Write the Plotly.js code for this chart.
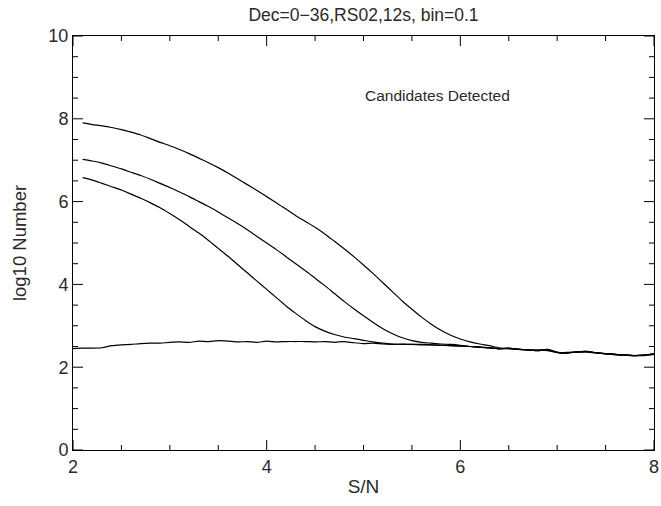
<!DOCTYPE html>
<html>
<head>
<meta charset="utf-8">
<script src="https://cdn.plot.ly/plotly-3.0.1.min.js"></script>
<style>html,body{margin:0;padding:0;background:#fff;}#chart{width:661px;height:506px;}</style>
</head>
<body>
<div id="chart"></div>
<script>
// S/N bins (bin = 0.1)
const snr = [2.0,2.1,2.2,2.3,2.4,2.5,2.6,2.7,2.8,2.9,3.0,3.1,3.2,3.3,3.4,3.5,3.6,3.7,3.8,3.9,
  4.0,4.1,4.2,4.3,4.4,4.5,4.6,4.7,4.8,4.9,5.0,5.1,5.2,5.3,5.4,5.5,5.6,5.7,5.8,5.9,
  6.0,6.1,6.2,6.3,6.4,6.5,6.6,6.7,6.8,6.9,7.0,7.1,7.2,7.3,7.4,7.5,7.6,7.7,7.8,7.9,8.0];

// log10 Number of candidates detected
const curveTop = [null,7.90,7.86,7.83,7.79,7.74,7.68,7.61,7.52,7.43,7.35,7.26,7.16,7.05,6.94,6.82,6.69,6.55,6.41,6.27,
  6.12,5.97,5.82,5.66,5.52,5.38,5.22,5.04,4.86,4.67,4.47,4.26,4.04,3.82,3.60,3.40,3.21,3.04,2.89,2.77,
  2.68,2.61,2.56,2.52,2.47,2.45,2.44,2.41,2.42,2.40,2.35,2.36,2.36,2.37,2.34,2.33,2.30,2.30,2.28,2.28,2.31];

const curveMid = [null,7.02,6.98,6.93,6.86,6.79,6.71,6.63,6.54,6.44,6.34,6.23,6.12,6.00,5.88,5.75,5.61,5.47,5.32,5.16,
  5.00,4.84,4.67,4.50,4.33,4.15,3.97,3.78,3.59,3.41,3.24,3.08,2.93,2.81,2.71,2.64,2.60,2.58,2.56,2.55,
  2.53,2.50,2.49,2.47,2.45,2.46,2.43,2.42,2.41,2.42,2.36,2.35,2.37,2.37,2.35,2.32,2.31,2.29,2.28,2.29,2.32];

const curveLow = [null,6.58,6.52,6.44,6.36,6.28,6.18,6.08,5.97,5.85,5.71,5.56,5.40,5.24,5.06,4.87,4.68,4.48,4.28,4.08,
  3.88,3.68,3.48,3.30,3.13,2.98,2.87,2.79,2.73,2.69,2.65,2.61,2.58,2.56,2.55,2.55,2.54,2.54,2.53,2.52,
  2.51,2.50,2.48,2.46,2.45,2.45,2.43,2.42,2.40,2.43,2.36,2.34,2.37,2.38,2.35,2.33,2.31,2.29,2.28,2.29,2.33];

const curveFlat = [2.45,2.46,2.46,2.47,2.52,2.54,2.55,2.57,2.58,2.58,2.60,2.61,2.60,2.63,2.62,2.64,2.63,2.61,2.62,2.60,
  2.63,2.61,2.62,2.62,2.62,2.61,2.62,2.60,2.62,2.59,2.57,2.58,2.56,2.55,2.56,2.55,2.55,2.54,2.53,2.52,
  2.51,2.50,2.48,2.47,2.44,2.46,2.43,2.42,2.40,2.43,2.36,2.34,2.37,2.38,2.35,2.33,2.31,2.29,2.28,2.29,2.33];

// tick positions
const xMajor = [2, 4, 6, 8];
const xMinor = [2.5, 3, 3.5, 4.5, 5, 5.5, 6.5, 7, 7.5];
const yMajor = [0, 2, 4, 6, 8, 10];
const yMinor = [0.5, 1, 1.5, 2.5, 3, 3.5, 4.5, 5, 5.5, 6.5, 7, 7.5, 8.5, 9, 9.5];

const series = [curveTop, curveMid, curveLow, curveFlat];

const FONT = 'Liberation Sans, Arial, sans-serif';
const TXT = '#2a2a2a';
const traces = series.map(ys => ({
  x: snr, y: ys, type: 'scatter', mode: 'lines',
  line: {color: '#000', width: 1.2, shape: 'spline', smoothing: 0.6}, hoverinfo: 'skip'
}));

// inside tick marks on all four sides, placed through the axes' scales
const shapes = [];
function xTick(v, len) {
  shapes.push({type: 'line', xref: 'x', yref: 'paper', ysizemode: 'pixel', yanchor: 0,
    x0: v, x1: v, y0: 0, y1: len, line: {color: '#000', width: 1}});
  shapes.push({type: 'line', xref: 'x', yref: 'paper', ysizemode: 'pixel', yanchor: 1,
    x0: v, x1: v, y0: 0, y1: -len, line: {color: '#000', width: 1}});
}
function yTick(v, len) {
  shapes.push({type: 'line', xref: 'paper', yref: 'y', xsizemode: 'pixel', xanchor: 0,
    x0: 0, x1: len, y0: v, y1: v, line: {color: '#000', width: 1}});
  shapes.push({type: 'line', xref: 'paper', yref: 'y', xsizemode: 'pixel', xanchor: 1,
    x0: 0, x1: -len, y0: v, y1: v, line: {color: '#000', width: 1}});
}
xMajor.forEach(v => xTick(v, 10));
xMinor.forEach(v => xTick(v, 5));
yMajor.forEach(v => yTick(v, 10));
yMinor.forEach(v => yTick(v, 5));

const base = {showgrid: false, zeroline: false, showline: true, linecolor: '#000', linewidth: 1,
  mirror: true, ticks: '', tickmode: 'array'};

const layout = {
  width: 661, height: 506,
  margin: {l: 73, r: 7, t: 36, b: 56},
  showlegend: false,
  title: {text: 'Dec=0\u221236,RS02,12s, bin=0.1', font: {family: FONT, size: 17.5, color: TXT},
          x: 0.55, xanchor: 'center', y: 0.97, yanchor: 'middle'},
  xaxis: Object.assign({}, base, {
    range: [2, 8], tickvals: xMajor, ticktext: xMajor.map(String),
    tickfont: {family: FONT, size: 18, color: TXT},
    title: {text: 'S/N', font: {family: FONT, size: 19, color: TXT}, standoff: 4}
  }),
  yaxis: Object.assign({}, base, {
    range: [0, 10], tickvals: yMajor, ticktext: yMajor.map(String),
    tickfont: {family: FONT, size: 18, color: TXT},
    title: {text: 'log10 Number', font: {family: FONT, size: 18.5, color: TXT}, standoff: 16}
  }),
  shapes: shapes,
  annotations: [{
    x: 5.76, y: 8.57, xref: 'x', yref: 'y', text: 'Candidates Detected', showarrow: false,
    font: {family: FONT, size: 15.5, color: TXT}
  }]
};

Plotly.newPlot('chart', traces, layout, {displayModeBar: false});
</script>
</body>
</html>
